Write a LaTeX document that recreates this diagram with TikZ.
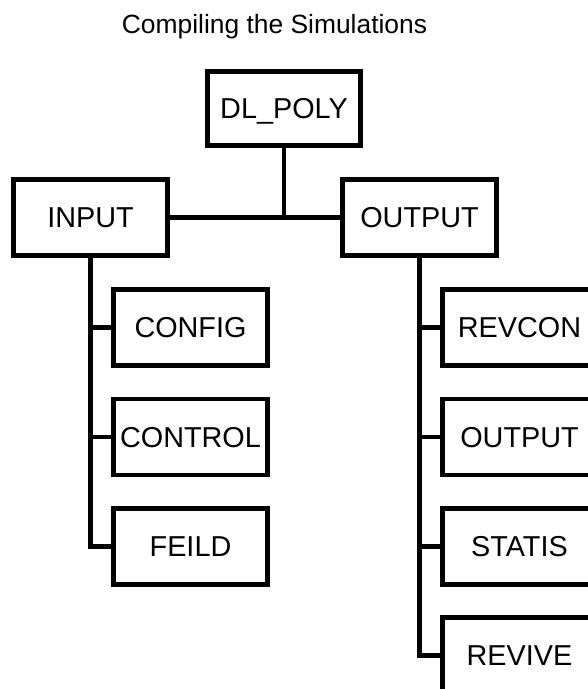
\documentclass[tikz,border=0pt]{standalone}
\usepackage{fontspec}
\setmainfont{Liberation Sans}
\begin{document}
\begin{tikzpicture}[x=1pt,y=-1pt,
  box/.style={draw=black, line width=4.8pt, rectangle, minimum width=154pt, minimum height=76pt,
    inner sep=0pt, font=\fontsize{28.8}{32}\selectfont, text height=20.6pt, text depth=0pt},
  conn/.style={draw=black, line width=4.8pt},
  ttl/.style={font=\fontsize{26.4}{30}\selectfont, anchor=base, inner sep=0pt}]
\clip (0,0) rectangle (588,689);
\fill[white] (0,0) rectangle (588,689);
\node[ttl] (title) at (274.5,33) {Compiling the Simulations};
\node[box, minimum width=153pt, minimum height=74pt] (dl) at (284,108.5) {DL\_POLY};
\node[box] (input) at (90.5,217.5) {INPUT};
\node[box] (output) at (419.5,217.5) {OUTPUT};
\node[box] (config) at (190.5,327.5) {CONFIG};
\node[box] (control) at (190.5,437) {CONTROL};
\node[box] (feild) at (190.5,546.5) {FEILD};
\node[box] (revcon) at (519.5,327.5) {REVCON};
\node[box] (out2) at (519.5,437) {OUTPUT};
\node[box] (statis) at (519.5,546.5) {STATIS};
\node[box] (revive) at (519.5,655.5) {REVIVE};
% top connectors
\coordinate (j) at (dl.south |- input.east);
\draw[conn] (dl.south) -- (j);
\draw[conn] (input.east) -- (output.west);
% input branch
\draw[conn] (input.south) |- (feild.west);
\draw[conn] (input.south |- config.west) -- (config.west);
\draw[conn] (input.south |- control.west) -- (control.west);
% output branch
\draw[conn] (output.south) |- (revive.west);
\draw[conn] (output.south |- revcon.west) -- (revcon.west);
\draw[conn] (output.south |- out2.west) -- (out2.west);
\draw[conn] (output.south |- statis.west) -- (statis.west);
\end{tikzpicture}
\end{document}
